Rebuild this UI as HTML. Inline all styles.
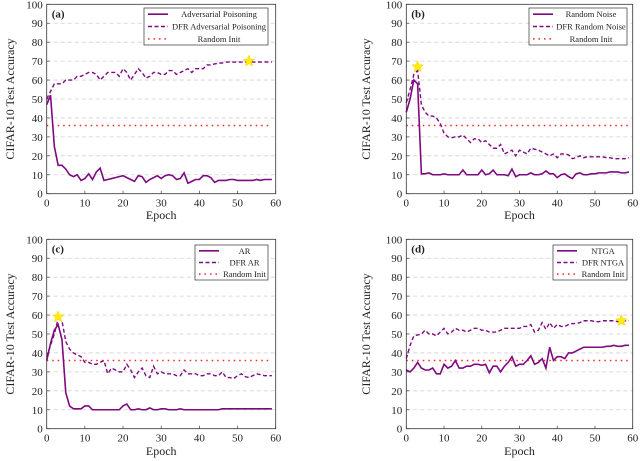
<!DOCTYPE html>
<html><head><meta charset="utf-8">
<style>
html,body{margin:0;padding:0;background:#fff;width:640px;height:461px;overflow:hidden}
svg{display:block}
text{font-family:"Liberation Serif","DejaVu Serif",serif;fill:#222}
</style></head>
<body>
<svg id="chart" width="640" height="461" viewBox="0 0 640 461" xmlns="http://www.w3.org/2000/svg"></svg>
<script>
const epochs = Array.from({length:60},(_,i)=>i);
const yTicks = [0,10,20,30,40,50,60,70,80,90,100];
const xTicks = [0,10,20,30,40,50,60];
const randomInit = 36;

const aSolid = [47,52,25,15,15,13,10,9,10,7,8,10.5,7.5,11.5,13.5,7,7.5,8,8.5,9,9.5,8.5,7.5,6.5,9.5,9,6,7.5,8.5,9.5,8,9.5,10,9.5,7.5,8,11,5.5,6.5,7.5,7.5,9.5,9.5,8.5,6,7,7,7,7.5,7.5,7,7,7,7,7,7.5,7,7.5,7.5,7.5];
const aDashed = [50,54,58,58,58,60,60,60,62,62,63,64,64,63,60,62,64,64,64,62,66,64,60,63,66,64,61,62,64,64,63,63,65,65,63,64,65,66,64,66,66,66,68,68,68.5,69,69,69.5,69.5,69.5,69.5,69.5,69.5,70,69.5,69.5,69.5,69.5,69.5,69.5];
const bSolid = [43,50,60,58,10.5,10.5,11,10,10,10,10.5,10,10,10,10,12.5,10,10,10,10,12.5,10,10.5,12.5,10,10,10,9.5,13,9,10,10,10,11,10,10,10.5,12,10.5,10.5,8.5,10,10.5,9,8,10.5,11,10,10,10.5,10.5,11,11,11,11.5,11.5,11.5,11,11,11.5];
const bDashed = [48,55,63,65,47,43,41,41,40,37,32,30,29.5,30,30,31,29,27,29,29,27,28,26,24,24,26,21,22,23,20,23,22,21,24,23.5,23,22,21,20,21,19,21,21,20.5,18.5,19,20,19,19.5,19.5,19.5,19.5,19.5,19,19,18.5,18.5,18.5,18.5,19];
const cSolid = [36,45,52,55,47,19,12,10.5,10.5,10.5,12,12,10,10,10,10,10,10,10,10,12,13,10,10,10.5,10,10,11,10,10,10.5,10.5,10,10,10,10.5,10,10,10,10,10,10,10,10,10,10,10.5,10.5,10.5,10.5,10.5,10.5,10.5,10.5,10.5,10.5,10.5,10.5,10.5,10.5];
const cDashed = [38,44,50,58,57,46,42,40,39,38,35,35,34,34,35,36,29,32,31,30,30,34,31,27,30,32,28,27,33,29,30,29,29,29,28,28,31,29,29,29,28,28,29,29,28,28,30,27,27,26.5,28,29,27.5,27,28,29,28.5,28,28,28];
const dSolid = [31,30,32,35,32,31,31,32,29,29,34,32,33,36,32,32,33,33,34,34,33.5,34,29.5,33,33,30,33,35,38,33,34,34,36,38.5,34,35,37,32,43,36,38,38,37,40,40,41,42,43,43,43,43,43,43,43.5,43.5,44,43.5,43.5,44,44];
const dDashed = [37,44,49,49.5,50,52,50,50,49,51,53,50,51,53,52,52,51,52,53,53,52,52,51,51,51,52,53,53,53,53,53,54,54,55,51,52,56,52.5,56,53,55,54,54,55,55.5,55.5,56,57,57,57,56.5,56.5,57,57,57,57,56.5,57,57,57];
const starEpochs = [53,3,3,57];
const starValues = [70,67,59,57];
const panelTags = ['(a)','(b)','(c)','(d)'];
const solidNames = ['Adversarial Poisoning','Random Noise','AR','NTGA'];
const dashedNames = ['DFR Adversarial Poisoning','DFR Random Noise','DFR AR','DFR NTGA'];

const NS='http://www.w3.org/2000/svg';
const svg=document.getElementById('chart');
function mk(tag,attrs,parent){const e=document.createElementNS(NS,tag);for(const k in attrs)e.setAttribute(k,attrs[k]);(parent||svg).appendChild(e);return e;}

const panels=[
 {x0:46.7,x1:275.7,y0:193.7,y1:4.3,lab:10,ep:219,leg:[144,8,268,45],s:aSolid,d:aDashed,k:'a'},
 {x0:406.3,x1:632.7,y0:193.7,y1:4.3,lab:366,ep:219,leg:[529,8,627,45],s:bSolid,d:bDashed,k:'b'},
 {x0:46.7,x1:275.7,y0:428.7,y1:239.3,lab:10,ep:455,leg:[195,245,268,280],s:cSolid,d:cDashed,k:'c'},
 {x0:406.3,x1:632.7,y0:428.7,y1:239.3,lab:366,ep:455,leg:[553,245,627,280],s:dSolid,d:dDashed,k:'d'}
];
const PURPLE='#7f0a80';
panels.forEach((p,pi)=>{
 const g=mk('g',{});
 
 
 const X=v=>p.x0+(v-0)/60*(p.x1-p.x0);
 const Y=v=>p.y0+(v-0)/100*(p.y1-p.y0);
 // grid
 yTicks.forEach(t=>{
  if(t>0&&t<100){const l=mk('line',{x1:p.x0,x2:p.x1,y1:Y(t),y2:Y(t),stroke:'#d0d0d0','stroke-width':0.8,'stroke-dasharray':'4,3'},g);
   }
  const tx=mk('text',{x:p.x0-4,y:Y(t)+4,'text-anchor':'end','font-size':11},g);tx.textContent=t;
  
  mk('line',{x1:p.x0,x2:p.x0+3,y1:Y(t),y2:Y(t),stroke:'#444','stroke-width':0.7},g);
 });
 xTicks.forEach(t=>{
  const tx=mk('text',{x:X(t),y:p.y0+13,'text-anchor':'middle','font-size':11},g);tx.textContent=t;
  
  mk('line',{x1:X(t),x2:X(t),y1:p.y0,y2:p.y0-3,stroke:'#444','stroke-width':0.7},g);
 });
 // random init
 const ri=mk('line',{x1:X(0),x2:X(59),y1:Y(randomInit),y2:Y(randomInit),stroke:'#ff2020','stroke-width':1.5,'stroke-dasharray':'1.5,4'},g);
 
 const path=arr=>arr.map((v,i)=>(i?'L':'M')+X(epochs[i]).toFixed(2)+','+Y(v).toFixed(2)).join('');
 const dl=mk('path',{d:path(p.d),fill:'none',stroke:PURPLE,'stroke-width':1.4,'stroke-dasharray':'4,2.5'},g);
 
 const sl=mk('path',{d:path(p.s),fill:'none',stroke:PURPLE,'stroke-width':1.6},g);
 
 // star
 const cx=X(starEpochs[pi]),cy=Y(starValues[pi]),R=6,r=2.6;let pts=[];
 for(let i=0;i<10;i++){const a=-Math.PI/2+i*Math.PI/5,rr=i%2?r:R;pts.push((cx+rr*Math.cos(a)).toFixed(2)+','+(cy+rr*Math.sin(a)).toFixed(2));}
 const st=mk('polygon',{points:pts.join(' '),fill:'#ffee00',stroke:'#f0d000','stroke-width':0.5},g);
 
 // frame
 mk('rect',{x:p.x0,y:p.y1,width:p.x1-p.x0,height:p.y0-p.y1,fill:'none',stroke:'#333','stroke-width':0.8},g);
 const tag=mk('text',{x:p.x0+5,y:p.y1+13,'font-size':11,'font-weight':'bold'},g);tag.textContent=panelTags[pi];
 
 // axis titles
 const et=mk('text',{x:(p.x0+p.x1)/2,y:p.ep,'text-anchor':'middle','font-size':12},g);et.textContent='Epoch';
 
 const yc=(p.y0+p.y1)/2;
 const yt=mk('text',{x:p.lab+4,y:yc,'text-anchor':'middle','font-size':12,transform:`rotate(-90 ${p.lab+4} ${yc})`},g);yt.textContent='CIFAR-10 Test Accuracy';
 
 // legend
 const [lx0,ly0,lx1,ly1]=p.leg;
 const lg=mk('g',{},g);
 
 mk('rect',{x:lx0,y:ly0,width:lx1-lx0,height:ly1-ly0,fill:'#fff',stroke:'#333','stroke-width':0.7},lg);
 const rowH=(ly1-ly0)/3;const names=[solidNames[pi],dashedNames[pi],'Random Init'];
 const styles=[{stroke:PURPLE,'stroke-width':1.6},{stroke:PURPLE,'stroke-width':1.4,'stroke-dasharray':'4,2.5'},{stroke:'#ff2020','stroke-width':1.5,'stroke-dasharray':'1.5,4'}];
 names.forEach((n,i)=>{
  const yy=ly0+rowH*(i+0.5);
  mk('line',Object.assign({x1:lx0+4,x2:lx0+24,y1:yy,y2:yy},styles[i]),lg);
  const t=mk('text',{x:(lx0+26+lx1)/2,y:yy+3,'text-anchor':'middle','font-size':8.5},lg);t.textContent=n;
  
 });
});
</script>
</body></html>
